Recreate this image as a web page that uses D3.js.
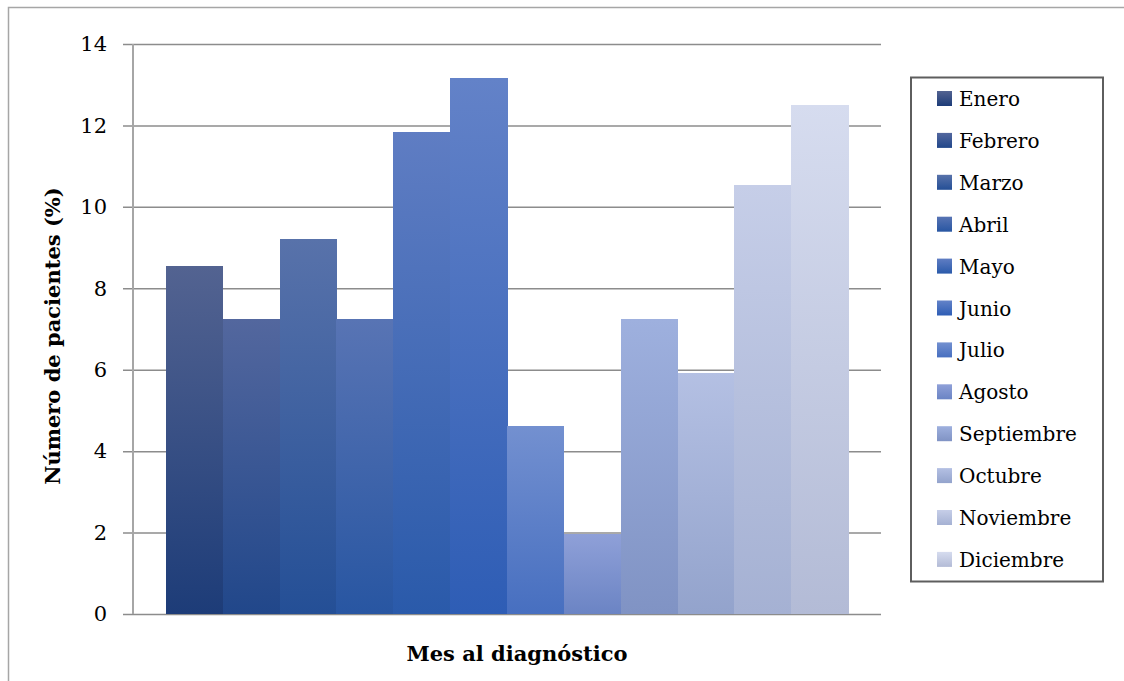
<!DOCTYPE html>
<html lang="es">
<head>
<meta charset="utf-8">
<script src="https://cdn.jsdelivr.net/npm/d3@7"></script>
<style>
  html, body { margin: 0; padding: 0; background: #fff; }
  svg { display: block; }
  text { font-family: "DejaVu Serif", "Liberation Serif", serif; fill: #000; }
</style>
</head>
<body>
<svg id="chart" width="1124" height="681"></svg>
<script>
// Distribución de pacientes según el mes al diagnóstico (%)
const months = ["Enero", "Febrero", "Marzo", "Abril", "Mayo", "Junio",
                "Julio", "Agosto", "Septiembre", "Octubre", "Noviembre", "Diciembre"];
const percentages = [8.55, 7.24, 9.21, 7.24, 11.84, 13.16, 4.61, 1.97, 7.24, 5.92, 10.53, 12.50];
const yTicks = [0, 2, 4, 6, 8, 10, 12, 14];

// Gradient palette (top → bottom) for each month
const topColors = ["#536391", "#53679e", "#5872aa", "#5874b4", "#5f7dc3", "#6382c8",
                   "#7390d0", "#8fa0d8", "#9eb0de", "#b4c0e3", "#c6cee8", "#d6dcef"];
const bottomColors = ["#1d3c78", "#21478a", "#244f96", "#2856a2", "#2a5aaa", "#2e5db5",
                      "#476fc0", "#6b84c4", "#8093c4", "#93a3cc", "#a5b1d3", "#b3bbd6"];

const svg = d3.select("#chart");

// Outer chart frame
svg.append("rect")
  .attr("x", 8.5).attr("y", 7.5)
  .attr("width", 1300).attr("height", 800)
  .attr("fill", "none").attr("stroke", "#a6a6a6").attr("stroke-width", 1.5);

const plot = { left: 133, right: 881, top: 44, bottom: 614 };

const x = d3.scaleBand()
  .domain(months)
  .range([plot.left, plot.right])
  .paddingInner(0)
  .paddingOuter(0.58);

const y = d3.scaleLinear()
  .domain([0, 14])
  .range([plot.bottom, plot.top]);

// Gradients
const defs = svg.append("defs");
months.forEach((m, i) => {
  const g = defs.append("linearGradient")
    .attr("id", "grad" + i)
    .attr("x1", 0).attr("y1", 0).attr("x2", 0).attr("y2", 1);
  g.append("stop").attr("offset", "0%").attr("stop-color", topColors[i]);
  g.append("stop").attr("offset", "100%").attr("stop-color", bottomColors[i]);
});

// Horizontal gridlines and y axis
const yAxis = d3.axisLeft(y)
  .tickValues(yTicks)
  .tickSize(-(plot.right - plot.left))
  .tickPadding(26)
  .tickFormat(d3.format("d"));

const yAxisG = svg.append("g")
  .attr("transform", `translate(${plot.left},0)`)
  .call(yAxis);
yAxisG.select(".domain").remove();
yAxisG.selectAll(".tick line")
  .attr("x1", -10)
  .attr("stroke", "#8c8c8c")
  .attr("stroke-width", 1.5);
yAxisG.selectAll(".tick text")
  .attr("font-family", "DejaVu Serif, serif")
  .attr("font-size", 21)
  .attr("fill", "#000");

// Bars
svg.append("g")
  .attr("shape-rendering", "crispEdges")
  .selectAll("rect")
  .data(percentages)
  .join("rect")
  .attr("x", (d, i) => x(months[i]))
  .attr("y", d => y(d))
  .attr("width", x.bandwidth() + 0.5)
  .attr("height", d => y(0) - y(d))
  .attr("fill", (d, i) => `url(#grad${i})`);

// Vertical axis line
svg.append("line")
  .attr("x1", plot.left).attr("x2", plot.left)
  .attr("y1", plot.top).attr("y2", plot.bottom)
  .attr("stroke", "#a6a6a6").attr("stroke-width", 2);

// Axis titles
svg.append("text")
  .attr("transform", "translate(60,336) rotate(-90)")
  .attr("text-anchor", "middle")
  .attr("font-size", 21)
  .attr("font-weight", "bold")
  .text("Número de pacientes (%)");

svg.append("text")
  .attr("x", 517).attr("y", 661)
  .attr("text-anchor", "middle")
  .attr("font-size", 21)
  .attr("font-weight", "bold")
  .text("Mes al diagnóstico");

// Legend
const legend = svg.append("g");
legend.append("rect")
  .attr("x", 911).attr("y", 77.5)
  .attr("width", 192).attr("height", 504)
  .attr("fill", "#fff")
  .attr("stroke", "#5e5e5e").attr("stroke-width", 2);

const rowStep = 41.9;
const items = legend.selectAll("g.item")
  .data(months)
  .join("g")
  .attr("class", "item")
  .attr("transform", (d, i) => `translate(937,${91 + i * rowStep})`);

items.append("rect")
  .attr("width", 15).attr("height", 15)
  .attr("fill", (d, i) => `url(#grad${i})`);

items.append("text")
  .attr("x", 22).attr("y", 15)
  .attr("font-size", 20)
  .text(d => d);
</script>
</body>
</html>
